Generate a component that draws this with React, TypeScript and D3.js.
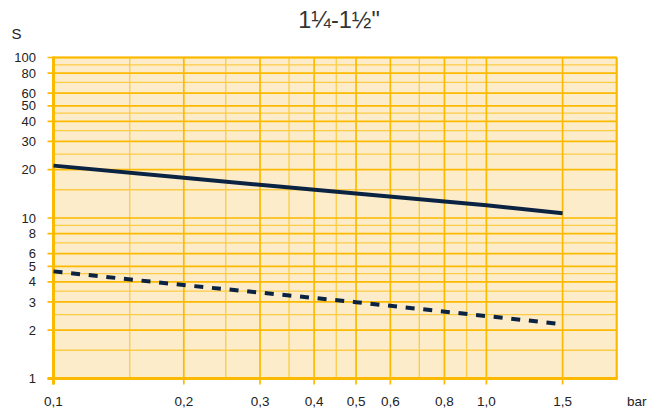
import React from "react";
import * as d3 from "d3";

// pressure (bar) vs closing time (s), log-log
const pressure = [0.1, 0.2, 0.5, 1.0, 1.5];
const timeUpper = [21.2, 17.8, 14.2, 12.0, 10.7];
const timeLower = [4.65, 3.82, 2.99, 2.45, 2.18];

const xMajor = [0.1, 0.2, 0.3, 0.4, 0.5, 0.6, 0.8, 1.0, 1.5];
const xMajorLabels = ["0,1", "0,2", "0,3", "0,4", "0,5", "0,6", "0,8", "1,0", "1,5"];
const xMinor = [0.15, 0.25, 0.35, 0.45, 0.7, 0.9];

const yMajor = [1, 2, 3, 4, 5, 6, 8, 10, 20, 30, 40, 50, 60, 80, 100];
const yMinor = [1.5, 2.5, 3.5, 4.5, 7, 9, 15, 25, 35, 45, 70, 90];

const title = "1\u00bc-1\u00bd\"";
const yUnit = "S";
const xUnit = "bar";

const W = 657;
const H = 414;
const left = 53.5;
const right = 616.7;
const top = 57.5;
const bottom = 378.5;

const gridMajor = "#FBBA00";
const gridMinor = "#FCCB45";
const bg = "#FDECC9";
const ink = "#0B2343";
const font = "'Liberation Sans', Arial, sans-serif";

export default function App() {
  const x = d3.scaleLog().domain([0.1, 2]).range([left, right]);
  const y = d3.scaleLog().domain([1, 100]).range([bottom, top]);

  const line = d3
    .line<number>()
    .x((_, i) => x(pressure[i]))
    .y((d) => y(d));

  return (
    <svg
      width={W}
      height={H}
      style={{ position: "absolute", left: 0, top: 0, background: "#fff" }}
    >
      <rect x={left} y={top} width={right - left} height={bottom - top} fill={bg} />

      {yMinor.map((v) => (
        <line key={"ym" + v} x1={left} x2={right} y1={y(v)} y2={y(v)} stroke={gridMinor} strokeWidth={1.3} />
      ))}
      {xMinor.map((v) => (
        <line key={"xm" + v} x1={x(v)} x2={x(v)} y1={top} y2={bottom} stroke={gridMinor} strokeWidth={1.3} />
      ))}
      {yMajor.map((v) => (
        <line key={"yM" + v} x1={left - 6} x2={right} y1={y(v)} y2={y(v)} stroke={gridMajor} strokeWidth={1.7} />
      ))}
      {xMajor.map((v) => (
        <line key={"xM" + v} x1={x(v)} x2={x(v)} y1={top} y2={bottom + 6} stroke={gridMajor} strokeWidth={1.7} />
      ))}

      {/* frame */}
      <line x1={left} x2={right} y1={top} y2={top} stroke={gridMajor} strokeWidth={2.2} />
      <line x1={right} x2={right} y1={top} y2={bottom} stroke={gridMajor} strokeWidth={2.2} />
      <line x1={left} x2={left} y1={top - 1} y2={bottom + 6} stroke={gridMajor} strokeWidth={3} />
      <line x1={left - 6} x2={right + 1} y1={bottom} y2={bottom} stroke={gridMajor} strokeWidth={3} />

      <path d={line(timeUpper) ?? ""} fill="none" stroke={ink} strokeWidth={4} />
      <path
        d={line(timeLower) ?? ""}
        fill="none"
        stroke={ink}
        strokeWidth={4}
        strokeDasharray="9 8.7"
      />

      <g fontFamily={font} fill="#222">
        {yMajor.map((v) => (
          <text key={"yl" + v} x={36} y={y(v) + 4.6} fontSize={13} textAnchor="end">
            {v}
          </text>
        ))}
        {xMajor.map((v, i) => (
          <text key={"xl" + v} x={x(v)} y={406} fontSize={13.5} textAnchor="middle">
            {xMajorLabels[i]}
          </text>
        ))}
        <text x={627} y={406} fontSize={13.5}>
          {xUnit}
        </text>
        <text x={11.5} y={39} fontSize={15}>
          {yUnit}
        </text>
        <text x={339} y={28} fontSize={23.5} textAnchor="middle" fill="#333">
          {title}
        </text>
      </g>
    </svg>
  );
}
